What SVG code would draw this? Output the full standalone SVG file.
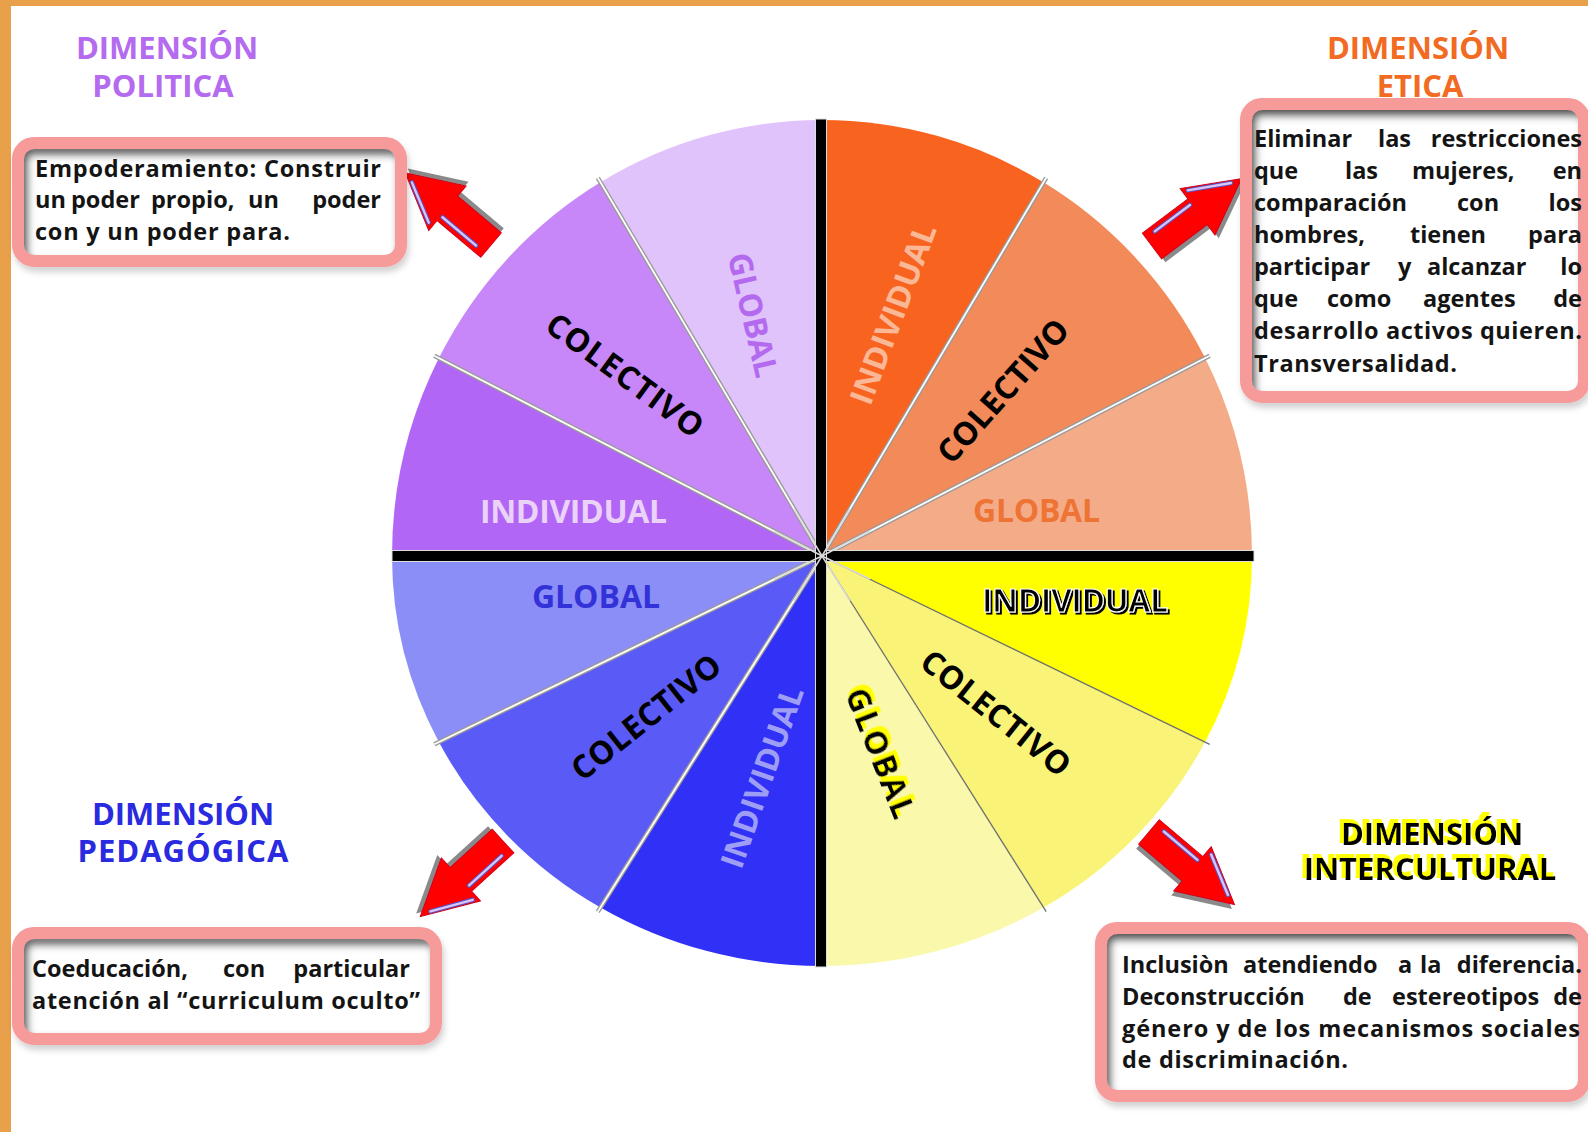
<svg xmlns="http://www.w3.org/2000/svg" xmlns:xlink="http://www.w3.org/1999/xlink" width="1588" height="1132" viewBox="0 0 1588 1132">
<style>
.t{font-family:"Open Sans","Liberation Sans",sans-serif;font-weight:700}
.body{font-size:23.5px;fill:#141414}
.title{font-size:31px;text-anchor:middle}
.wl{font-size:32px;text-anchor:middle}
.frame{fill:none;stroke:#F69A9A;stroke-width:12}
.inner{fill:#ffffff}
.div{stroke:#9a9a9a;stroke-width:4.5}
.divw{stroke:#ffffff;stroke-width:1.8}
.end{text-anchor:end}
</style>
<defs>
<filter id="inset" x="-5%" y="-10%" width="110%" height="120%">
<feFlood flood-color="#5a5a5a" result="c"/>
<feComposite in="c" in2="SourceAlpha" operator="out" result="inv"/>
<feOffset in="inv" dx="4" dy="6" result="off"/>
<feGaussianBlur in="off" stdDeviation="4" result="blur"/>
<feComposite in="blur" in2="SourceAlpha" operator="in" result="sh"/>
<feMerge><feMergeNode in="SourceGraphic"/><feMergeNode in="sh"/></feMerge>
</filter>
<filter id="drop" x="-5%" y="-10%" width="115%" height="130%">
<feDropShadow dx="2" dy="5" stdDeviation="3" flood-color="#000" flood-opacity="0.18"/>
</filter>
<filter id="yshadow" x="-10%" y="-20%" width="120%" height="140%">
<feMorphology in="SourceAlpha" operator="dilate" radius="0.8" result="d"/>
<feOffset in="d" dx="-3" dy="-3" result="o"/>
<feFlood flood-color="#FFFF00"/>
<feComposite in2="o" operator="in" result="y"/>
<feMerge><feMergeNode in="y"/><feMergeNode in="SourceGraphic"/></feMerge>
</filter>
<filter id="kshadow" x="-10%" y="-20%" width="120%" height="140%">
<feOffset in="SourceAlpha" dx="2" dy="2" result="o"/>
<feMerge><feMergeNode in="o"/><feMergeNode in="SourceGraphic"/></feMerge>
</filter>
<g id="arr">
<path d="M0,-16 H57 V-29 L112,0 L57,29 V16 H0 Z" transform="translate(1,5)" fill="#8a8a8a"/>
<path d="M0,-16 H57 V-29 L112,0 L57,29 V16 H0 Z" fill="#FF0000" stroke="#D4001A" stroke-width="1"/>
<path d="M62,-23 L101,-3 M11,-10 L55,-10" stroke="#5a50c4" stroke-width="4.5" stroke-linecap="round" fill="none"/>
<path d="M62,-23 L101,-3 M11,-10 L55,-10" stroke="#D9C6F5" stroke-width="2.4" stroke-linecap="round" fill="none"/>
</g>
</defs>

<rect x="0" y="0" width="1588" height="1132" fill="#ffffff"/>
<rect x="0" y="0" width="11" height="1132" fill="#E9A04B"/>
<rect x="0" y="0" width="1588" height="6" fill="#E9A04B"/>

<g id="wheel">
<path d="M822,556 L822,120 A430,436 0 0,1 1043.5,182.3 Z" fill="#F8631F"/>
<path d="M822,556 L1043.5,182.3 A430,436 0 0,1 1205.1,358.1 Z" fill="#F28A59"/>
<path d="M822,556 L1205.1,358.1 A430,436 0 0,1 1252,556 Z" fill="#F4AB87"/>
<path d="M822,556 L1252,556 A430,410 0 0,1 1205.1,742.1 Z" fill="#FFFF00"/>
<path d="M822,556 L1205.1,742.1 A430,410 0 0,1 1043.5,907.5 Z" fill="#F9F477"/>
<path d="M822,556 L1043.5,907.5 A430,410 0 0,1 822,966 Z" fill="#FAF8AA"/>
<path d="M822,556 L822,966 A430,410 0 0,1 600.5,907.5 Z" fill="#3030F6"/>
<path d="M822,556 L600.5,907.5 A430,410 0 0,1 438.9,742.1 Z" fill="#5A5AF6"/>
<path d="M822,556 L438.9,742.1 A430,410 0 0,1 392,556 Z" fill="#8C8EF8"/>
<path d="M822,556 L392,556 A430,436 0 0,1 438.9,358.1 Z" fill="#B266F6"/>
<path d="M822,556 L438.9,358.1 A430,436 0 0,1 600.5,182.3 Z" fill="#C887F8"/>
<path d="M822,556 L600.5,182.3 A430,436 0 0,1 822,120 Z" fill="#E0C3FB"/>

<g class="div">
<line x1="822" y1="556" x2="1046.2" y2="177.8"/>
<line x1="822" y1="556" x2="1209.7" y2="355.7"/>
<line x1="822" y1="556" x2="597.8" y2="177.8"/>
<line x1="822" y1="556" x2="434.3" y2="355.7"/>
<line x1="822" y1="556" x2="434.3" y2="744.3"/>
<line x1="822" y1="556" x2="597.8" y2="911.7"/>
</g>
<g class="divw">
<line x1="822" y1="556" x2="1046.2" y2="177.8"/>
<line x1="822" y1="556" x2="1209.7" y2="355.7"/>
<line x1="822" y1="556" x2="597.8" y2="177.8"/>
<line x1="822" y1="556" x2="434.3" y2="355.7"/>
<line x1="822" y1="556" x2="434.3" y2="744.3"/>
<line x1="822" y1="556" x2="597.8" y2="911.7"/>
</g>
<g stroke="#6f6f6f" stroke-width="1.3">
<line x1="822" y1="556" x2="1209.7" y2="744.3"/>
<line x1="822" y1="556" x2="1046.2" y2="911.7"/>
</g>

<rect x="392" y="550.5" width="862" height="11" fill="#000" stroke="#ddd" stroke-width="1"/>
<rect x="815.5" y="119" width="11" height="848" fill="#000" stroke="#ddd" stroke-width="1"/>
<g stroke="#dcdcdc" stroke-width="1.5">
<line x1="822" y1="556" x2="850" y2="509"/><line x1="822" y1="556" x2="794" y2="509"/>
<line x1="822" y1="556" x2="870" y2="531"/><line x1="822" y1="556" x2="774" y2="531"/>
<line x1="822" y1="556" x2="870" y2="579"/><line x1="822" y1="556" x2="774" y2="579"/>
<line x1="822" y1="556" x2="850" y2="601"/><line x1="822" y1="556" x2="794" y2="601"/>
</g>

<g class="t wl">
<text transform="translate(893,314) rotate(-69.4)" y="11.4" fill="#FAB896" textLength="190">INDIVIDUAL</text>
<text transform="translate(1003,391) rotate(-48.4)" y="11.4" fill="#000" textLength="180">COLECTIVO</text>
<text x="1036.5" y="522" fill="#EE7436" textLength="127">GLOBAL</text>
<text transform="translate(753,315) rotate(76.9)" y="11.4" fill="#B46AEF" textLength="127">GLOBAL</text>
<text transform="translate(625,375) rotate(36.3)" y="11.4" fill="#000" textLength="186">COLECTIVO</text>
<text x="573.5" y="523" fill="#EAD2F9" textLength="187">INDIVIDUAL</text>
<text x="596" y="608" fill="#3232D8" textLength="128">GLOBAL</text>
<text transform="translate(646,717) rotate(-38.5)" y="11.4" fill="#000" textLength="181">COLECTIVO</text>
<text transform="translate(762,777) rotate(-70.7)" y="11.4" fill="#9E9EF6" textLength="190">INDIVIDUAL</text>
<text x="1075" y="612" fill="#000" stroke="#ffffff" stroke-width="1.2" textLength="186" filter="url(#kshadow)">INDIVIDUAL</text>
<text transform="translate(996,713) rotate(38.5)" y="11.4" fill="#000" textLength="181">COLECTIVO</text>
<text transform="translate(880,753) rotate(68.5)" y="11.4" fill="#000" textLength="137" filter="url(#yshadow)">GLOBAL</text>
</g>
</g>

<g id="connectors">
<use xlink:href="#arr" href="#arr" transform="translate(491,245) rotate(220.1)"/>
<use xlink:href="#arr" href="#arr" transform="translate(1152,246) rotate(-36.9)"/>
<use xlink:href="#arr" href="#arr" transform="translate(503,841) rotate(137.6)"/>
<use xlink:href="#arr" href="#arr" transform="translate(1149,832) rotate(40.3)"/>
</g>

<g id="politica" class="t">
<text class="title" fill="#B46BEF"><tspan x="167" y="59">DIMENSIÓN</tspan><tspan x="163" y="97">POLITICA</tspan></text>
<rect class="inner" x="24" y="149" width="371" height="106" filter="url(#inset)"/>
<rect class="frame" x="18" y="143" width="383" height="118" rx="16" filter="url(#drop)"/>
<g class="body">
<text x="35" y="177" textLength="346">Empoderamiento: Construir</text>
<text x="35" y="208">un</text><text x="71" y="208">poder</text><text x="151" y="208">propio,</text><text x="248" y="208">un</text><text class="end" x="381" y="208">poder</text>
<text x="35" y="240" textLength="255">con y un poder para.</text>
</g>
</g>

<g id="etica" class="t">
<text class="title" fill="#F26B22"><tspan x="1418" y="59">DIMENSIÓN</tspan><tspan x="1420" y="97">ETICA</tspan></text>
<rect class="inner" x="1252" y="110" width="340" height="281" filter="url(#inset)"/>
<rect class="frame" x="1246" y="104" width="338" height="293" rx="16" filter="url(#drop)"/>
<g class="body">
<text x="1254" y="147">Eliminar</text><text x="1378" y="147">las</text><text class="end" x="1582" y="147">restricciones</text>
<text x="1254" y="179">que</text><text x="1345" y="179">las</text><text x="1412" y="179">mujeres,</text><text class="end" x="1582" y="179">en</text>
<text x="1254" y="211">comparación</text><text x="1457" y="211">con</text><text class="end" x="1582" y="211">los</text>
<text x="1254" y="243">hombres,</text><text x="1410" y="243">tienen</text><text class="end" x="1582" y="243">para</text>
<text x="1254" y="275">participar</text><text x="1398" y="275">y</text><text x="1427" y="275">alcanzar</text><text class="end" x="1582" y="275">lo</text>
<text x="1254" y="307">que</text><text x="1327" y="307">como</text><text x="1423" y="307">agentes</text><text class="end" x="1582" y="307">de</text>
<text x="1254" y="339" textLength="328">desarrollo activos quieren.</text>
<text x="1254" y="372" textLength="203">Transversalidad.</text>
</g>
</g>

<g id="pedagogica" class="t">
<text class="title" fill="#2A2AE0"><tspan x="183" y="825">DIMENSIÓN</tspan><tspan x="183" y="862" textLength="211">PEDAGÓGICA</tspan></text>
<rect class="inner" x="24" y="939" width="406" height="94" filter="url(#inset)"/>
<rect class="frame" x="18" y="933" width="418" height="106" rx="16" filter="url(#drop)"/>
<g class="body">
<text x="32" y="977">Coeducación,</text><text x="223" y="977">con</text><text class="end" x="410" y="977">particular</text>
<text x="32" y="1009" textLength="388">atención al “curriculum oculto”</text>
</g>
</g>

<g id="intercultural" class="t">
<text class="title" fill="#000" filter="url(#yshadow)"><tspan x="1432" y="845">DIMENSIÓN</tspan><tspan x="1430" y="880">INTERCULTURAL</tspan></text>
<rect class="inner" x="1107" y="934" width="485" height="156" filter="url(#inset)"/>
<rect class="frame" x="1101" y="928" width="483" height="168" rx="16" filter="url(#drop)"/>
<g class="body">
<text x="1122" y="973">Inclusiòn</text><text x="1243" y="973">atendiendo</text><text x="1398" y="973">a</text><text x="1420" y="973">la</text><text class="end" x="1582" y="973">diferencia.</text>
<text x="1122" y="1005">Deconstrucción</text><text x="1343" y="1005">de</text><text x="1392" y="1005">estereotipos</text><text class="end" x="1582" y="1005">de</text>
<text x="1122" y="1037" textLength="458">género y de los mecanismos sociales</text>
<text x="1122" y="1068" textLength="226">de discriminación.</text>
</g>
</g>
</svg>
